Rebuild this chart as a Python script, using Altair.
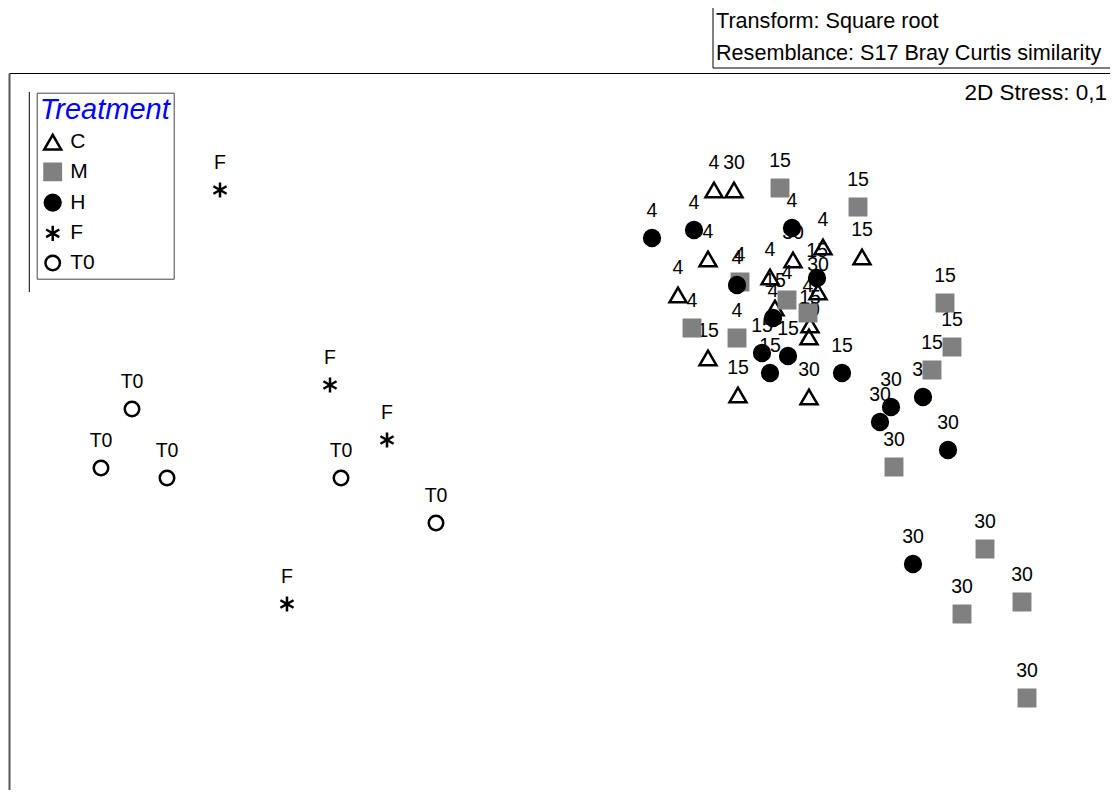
import altair as alt
import pandas as pd

# ---- nMDS ordination positions (x to the right, y downward) ----
C_x = [714, 734, 708, 823, 862, 678, 770, 793, 775, 818, 810, 809, 708, 738, 809]
C_y = [190, 190, 259, 247, 257, 295, 277, 260, 308, 292, 325, 337, 358, 395, 397]
C_lab = ["4", "30", "4", "4", "15", "4", "4", "30", "15", "30", "15", "30", "15", "15", "30"]

M_x = [780, 858, 740, 692, 787, 808, 737, 945, 952, 932, 894, 985, 962, 1022, 1027]
M_y = [188, 207, 282, 328, 300, 313, 338, 303, 347, 370, 467, 549, 614, 602, 698]
M_lab = ["15", "15", "4", "4", "4", "4", "4", "15", "15", "15", "30", "30", "30", "30", "30"]

H_x = [652, 694, 792, 737, 817, 773, 762, 788, 770, 842, 880, 891, 923, 948, 913]
H_y = [238, 230, 228, 285, 278, 318, 353, 356, 373, 373, 422, 407, 397, 450, 564]
H_lab = ["4", "4", "4", "4", "15", "4", "15", "15", "15", "15", "30", "30", "30", "30", "30"]

F_x = [220, 330, 387, 287]
F_y = [190, 385, 440, 604]
F_lab = ["F", "F", "F", "F"]

T0_x = [132, 101, 167, 341, 436]
T0_y = [409, 468, 478, 478, 523]
T0_lab = ["T0", "T0", "T0", "T0", "T0"]

treatments = ["C", "M", "H", "F", "T0"]

rows = []
for name, xs, ys, labs in [("C", C_x, C_y, C_lab), ("M", M_x, M_y, M_lab),
                           ("H", H_x, H_y, H_lab), ("F", F_x, F_y, F_lab),
                           ("T0", T0_x, T0_y, T0_lab)]:
    for a, b, l in zip(xs, ys, labs):
        rows.append({"x": a, "y": b, "Treatment": name, "Label": l})
df = pd.DataFrame(rows)

FONT = "Liberation Sans"
star = "M0,-1L0,1M-0.866,-0.5L0.866,0.5M-0.866,0.5L0.866,-0.5"

legend = alt.Legend(
    orient="none", legendX=27.7, legendY=19.7, title="Treatment",
    padding=3, strokeColor="#444", fillColor="white",
    titleFontSize=29, titleFontStyle="italic", titleColor="#0000ff",
    titleFontWeight="normal", titleFont=FONT, titlePadding=7,
    labelFontSize=21, labelFont=FONT, labelColor="black",
    rowPadding=3.7, symbolOffset=2.5, labelOffset=7,
    symbolStrokeWidth=2.5, symbolOpacity=1,
)

xenc = alt.X("x:Q", title=None,
             scale=alt.Scale(domain=[9, 1110], nice=False, zero=False),
             axis=alt.Axis(orient="top", domain=True, domainColor="black", domainWidth=1,
                           ticks=False, labels=False, grid=False))
yenc = alt.Y("y:Q", title=None,
             scale=alt.Scale(domain=[73, 790], nice=False, zero=False, reverse=True),
             axis=alt.Axis(orient="left", domain=True, domainColor="#555", domainWidth=2,
                           ticks=False, labels=False, grid=False))

labels = alt.Chart(df).mark_text(
    font=FONT, fontSize=19.5, color="black", baseline="alphabetic", dy=-21, align="center"
).encode(x=xenc, y=yenc, text="Label:N")

points = alt.Chart(df).mark_point(opacity=1, strokeWidth=2.5).encode(
    x=xenc, y=yenc,
    shape=alt.Shape("Treatment:N", scale=alt.Scale(domain=treatments,
                    range=["triangle-up", "square", "circle", star, "circle"]), legend=legend),
    fill=alt.Fill("Treatment:N", scale=alt.Scale(domain=treatments,
                  range=["transparent", "#808080", "black", "transparent", "transparent"]), legend=legend),
    stroke=alt.Stroke("Treatment:N", scale=alt.Scale(domain=treatments,
                      range=["black", "#808080", "black", "black", "black"]), legend=legend),
    size=alt.Size("Treatment:O", scale=alt.Scale(domain=treatments,
                  range=[289, 210, 200, 256, 196]), legend=legend),
)

one = pd.DataFrame({"k": [0]})
box = alt.Chart(one).mark_rect(fill="white", stroke="black", strokeWidth=1).encode(
    x=alt.value(704), x2=alt.value(1130), y=alt.value(-70), y2=alt.value(-5))
t1 = alt.Chart(one).mark_text(text="Transform: Square root", font=FONT, fontSize=21.6,
                              align="left", baseline="alphabetic", color="black").encode(
    x=alt.value(707), y=alt.value(-45))
t2 = alt.Chart(one).mark_text(text="Resemblance: S17 Bray Curtis similarity", font=FONT, fontSize=21.6,
                              align="left", baseline="alphabetic", color="black").encode(
    x=alt.value(707), y=alt.value(-13))
stress = alt.Chart(one).mark_text(text="2D Stress: 0,1", font=FONT, fontSize=22.5,
                                  align="right", baseline="alphabetic", color="black").encode(
    x=alt.value(1098), y=alt.value(27))
vline = alt.Chart(one).mark_rule(color="black", strokeWidth=1).encode(
    x=alt.value(20.3), y=alt.value(19), y2=alt.value(219))

chart = alt.layer(box, t1, t2, stress, vline, labels, points).properties(
    width=1101, height=717,
    autosize=alt.AutoSizeParams(type="none"),
    padding={"left": 1, "top": 65, "right": 0, "bottom": 0},
    background="white",
).configure_view(strokeWidth=0)

chart.save("out.html", embed_options={"renderer": "svg", "actions": False})
